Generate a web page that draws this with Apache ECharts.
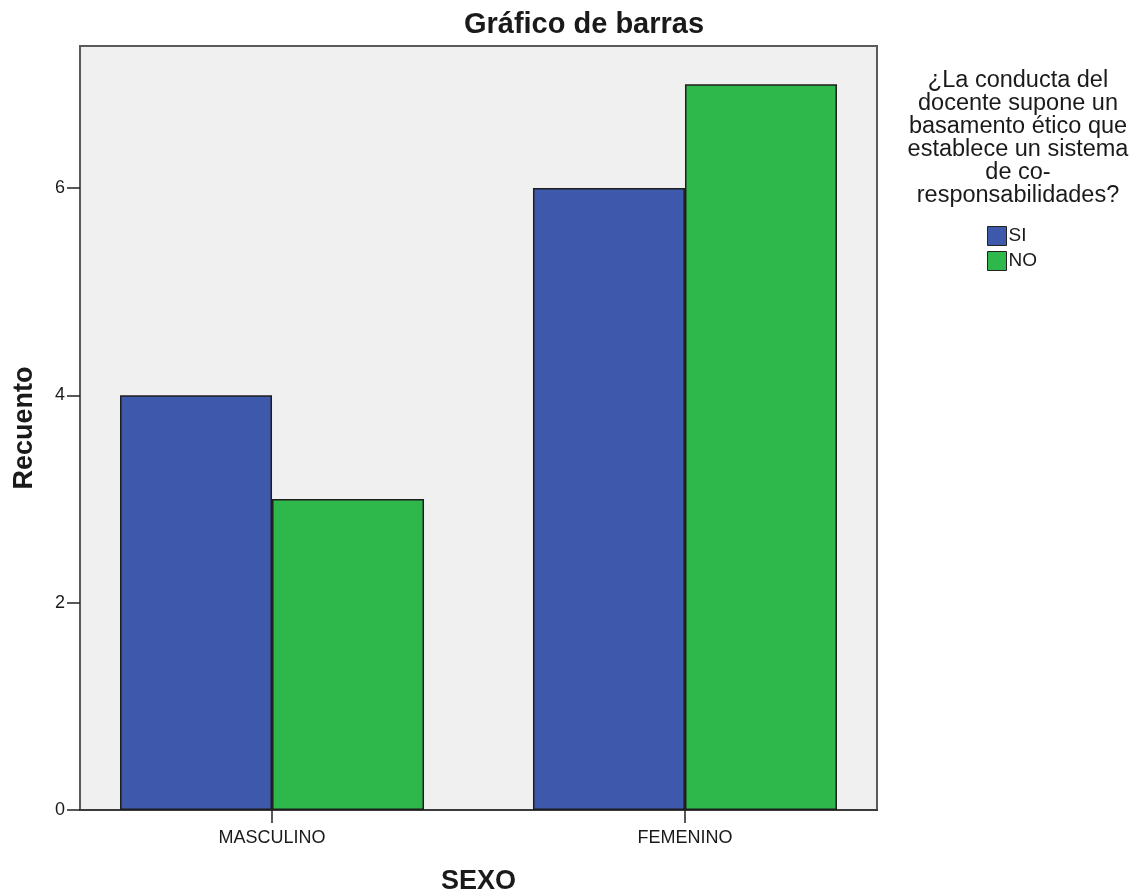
<!DOCTYPE html>
<html>
<head>
<meta charset="utf-8">
<script src="https://cdn.jsdelivr.net/npm/echarts@6/dist/echarts.min.js"></script>
<style>
  html, body { margin: 0; padding: 0; background: #fff; }
  #chart { width: 1138px; height: 894px; }
</style>
</head>
<body>
<div id="chart"></div>
<script>
const categories = ["MASCULINO", "FEMENINO"];
const siValues = [4, 6];
const noValues = [3, 7];
const yTicks = [0, 2, 4, 6];
const legendTitle = "¿La conducta del\ndocente supone un\nbasamento ético que\nestablece un sistema\nde co-\nresponsabilidades?";

const FONT = "'Liberation Sans', Arial, sans-serif";
const TEXT = "#1a1a1a";

// categories sit at x = 1, 2 on a value axis so the outer margins match the picture
const xPos = categories.map((c, i) => i + 1);

const chart = echarts.init(document.getElementById("chart"));

const option = {
  backgroundColor: "#ffffff",
  animation: false,
  textStyle: { fontFamily: FONT },
  title: [
    {
      text: "Gráfico de barras",
      left: 579,
      top: 5,
      textAlign: "center",
      textStyle: { fontFamily: FONT, fontSize: 29, fontWeight: "bold", color: TEXT },
    },
    {
      text: legendTitle,
      left: 1013,
      top: 64,
      textAlign: "center",
      textStyle: {
        fontFamily: FONT,
        fontSize: 23.5,
        lineHeight: 23,
        fontWeight: "normal",
        color: TEXT,
        align: "center",
      },
    },
  ],
  legend: {
    orient: "vertical",
    left: 982,
    top: 221,
    itemWidth: 19,
    itemHeight: 19,
    itemGap: 5,
    icon: "rect",
    data: ["SI", "NO"],
    textStyle: { fontFamily: FONT, fontSize: 19, color: TEXT, padding: [0, 0, 0, -3] },
    itemStyle: { borderColor: "#222", borderWidth: 1 },
  },
  grid: {
    left: 80,
    right: 261,
    top: 46,
    bottom: 84,
    outerBoundsMode: "none",
    show: true,
    backgroundColor: "#f0f0f0",
    borderColor: "#5a5a5a",
    borderWidth: 2,
  },
  xAxis: {
    type: "value",
    min: 0.535,
    max: 2.465,
    name: "SEXO",
    nameLocation: "middle",
    nameGap: 58,
    nameTextStyle: { fontFamily: FONT, fontSize: 27, fontWeight: "bold", color: TEXT },
    axisLine: { show: true, lineStyle: { color: "#3a3a3a", width: 2 } },
    axisTick: {
      show: true,
      customValues: xPos,
      length: 13,
      lineStyle: { color: "#222", width: 1.5 },
    },
    axisLabel: {
      customValues: xPos,
      margin: 19,
      fontFamily: FONT,
      fontSize: 18,
      color: TEXT,
      formatter: (v) => categories[Math.round(v) - 1] || "",
    },
    splitLine: { show: false },
  },
  yAxis: {
    type: "value",
    min: 0,
    max: 7.37,
    name: "Recuento",
    nameLocation: "middle",
    nameRotate: 90,
    nameGap: 42,
    nameTextStyle: { fontFamily: FONT, fontSize: 27, fontWeight: "bold", color: TEXT },
    axisLine: { show: true, lineStyle: { color: "#5a5a5a", width: 2 } },
    axisTick: {
      show: true,
      customValues: yTicks,
      length: 13,
      lineStyle: { color: "#222", width: 1.5 },
    },
    axisLabel: {
      customValues: yTicks,
      margin: 15,
      fontFamily: FONT,
      fontSize: 18,
      color: TEXT,
    },
    splitLine: { show: false },
  },
  series: [
    {
      name: "SI",
      type: "bar",
      data: siValues.map((v, i) => [xPos[i], v]),
      barWidth: 152,
      barGap: "0%",
      itemStyle: { color: "#3e58ab", borderColor: "#1e1e1e", borderWidth: 1.5 },
    },
    {
      name: "NO",
      type: "bar",
      data: noValues.map((v, i) => [xPos[i], v]),
      barWidth: 152,
      barGap: "0%",
      itemStyle: { color: "#2eb84b", borderColor: "#1e1e1e", borderWidth: 1.5 },
    },
  ],
};

chart.setOption(option);
</script>
</body>
</html>
